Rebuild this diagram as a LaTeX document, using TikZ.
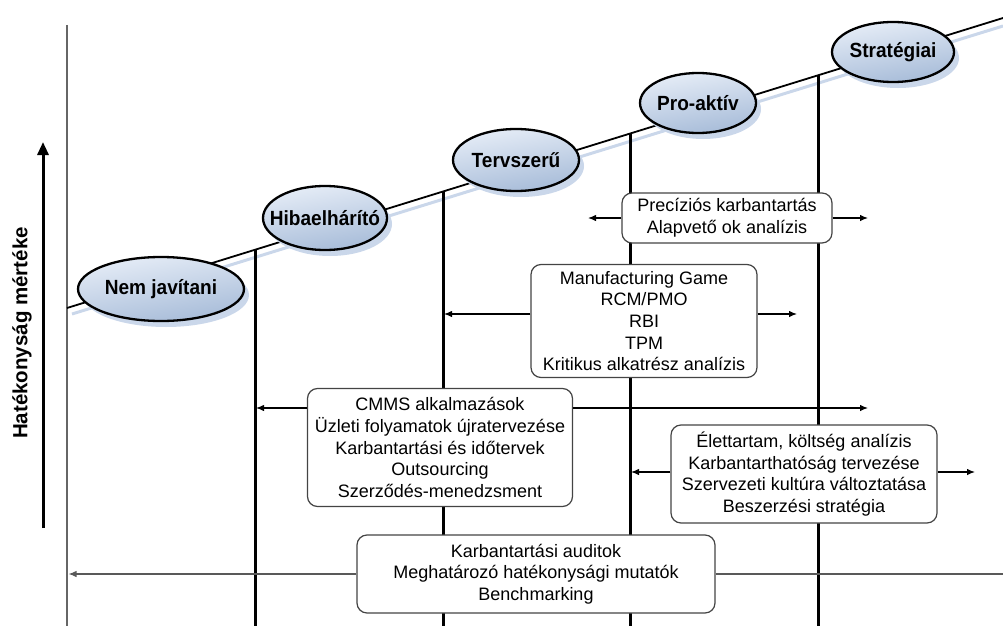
\documentclass[tikz,border=0pt]{standalone}
\usepackage{fontspec}
\setmainfont{Liberation Sans}
\newfontfamily\stagefont[FakeStretch=0.93]{Liberation Sans}
\usetikzlibrary{arrows.meta,shapes.geometric,calc}

\definecolor{ellTop}{HTML}{E6EDF7}
\definecolor{ellBot}{HTML}{A6BBD8}
\definecolor{ellShadow}{HTML}{CAD7EA}
\definecolor{boxLine}{HTML}{444444}

\tikzset{
  stage/.style={ellipse, draw=black, line width=2.3pt, inner sep=0pt,
    top color=ellTop, bottom color=ellBot, shading angle=10},
  stagetext/.style={inner sep=0pt, font=\stagefont\fontsize{20.5}{24}\selectfont\bfseries},
  stageshadow/.style={ellipse, fill=ellShadow, draw=none, inner sep=0pt},
  infobox/.style={rectangle, rounded corners=10pt, draw=boxLine, line width=1.2pt,
    fill=white, align=center, inner sep=0pt,
    font=\fontsize{18}{21.7}\selectfont},
  arr/.style={line width=1.2pt, -{Latex[length=8pt,width=6.5pt]}},
  grayarr/.style={line width=1.2pt, draw=black!65, -{Latex[length=8pt,width=6.5pt]}},
  stagebar/.style={line width=3pt, draw=black},
}

\begin{document}
\begin{tikzpicture}[x=1pt,y=-1pt]
\useasboundingbox (0,0) rectangle (1003,626);

% axis and its label
\coordinate (axTop) at (67,25);
\coordinate (axBot) at (67,626);
\draw[line width=1.8pt, black!60] (axTop) -- (axBot);
\coordinate (upS) at (43,528);
\coordinate (upE) at (43,142);
\draw[line width=3pt, -{Triangle[length=13pt,width=11pt]}] (upS) -- (upE);
\node[rotate=90, font=\fontsize{20.5}{24}\selectfont\bfseries] (ylab) at (22,333) {Hatékonyság mértéke};

% rising maturity line with its soft shadow
\coordinate (d0) at (67,308);
\coordinate (d1) at (1003,18);
\coordinate (s0) at (72,314);
\coordinate (s1) at (1003,26);
\draw[line width=3pt, ellShadow] (s0) -- (s1);
\draw[line width=1.8pt] (d0) -- (d1);

% vertical separators between stages
\foreach \nm/\xx/\yy in {v1/255/249.8, v2/443/191.5, v3/630/133.6, v4/818/75.3}{
  \coordinate (\nm t) at (\xx,\yy);
  \coordinate (\nm b) at (\xx,626);
  \draw[stagebar] (\nm t) -- (\nm b);
}

% stage ellipses
\foreach \nm/\xx/\yy/\ww/\hh/\txt in {
  e1/161/289/166/64/{Nem javítani},
  e2/325/218/124/64/{Hibaelhárító},
  e3/516/160/126/62/{Tervszerű},
  e4/698/103/116/60/{Pro-aktív},
  e5/893/52/122/60/{Stratégiai}}{
  \node[stageshadow, minimum width=\ww pt, minimum height=\hh pt] (\nm s) at (\xx+5,\yy+6) {};
  \node[stage, minimum width=\ww pt, minimum height=\hh pt] (\nm) at (\xx,\yy) {};
  \node[stagetext] (\nm t) at (\nm) {\txt};
}

% arrow end points
\coordinate (a1L) at (588,218);
\coordinate (a1R) at (868,218);
\coordinate (a2L) at (444,314);
\coordinate (a2R) at (797,314);
\coordinate (a3L) at (256,408);
\coordinate (a3R) at (868,408);
\coordinate (a4L) at (631,472);
\coordinate (a4R) at (975,472);
\coordinate (a5L) at (68.5,574);
\coordinate (a5R) at (1003,574);

% method boxes
\node[infobox, minimum width=210pt, minimum height=50pt] (b1) at (727,218)
  {Precíziós karbantartás\\Alapvető ok analízis};
\node[infobox, minimum width=226pt, minimum height=113pt] (b2) at (644,321)
  {Manufacturing Game\\RCM/PMO\\RBI\\TPM\\Kritikus alkatrész analízis};
\node[infobox, minimum width=265pt, minimum height=118pt] (b3) at (440,447.5)
  {CMMS alkalmazások\\Üzleti folyamatok újratervezése\\Karbantartási és időtervek\\Outsourcing\\Szerződés-menedzsment};
\node[infobox, minimum width=266pt, minimum height=98pt] (b4) at (804,474)
  {Élettartam, költség analízis\\Karbantarthatóság tervezése\\Szervezeti kultúra változtatása\\Beszerzési stratégia};
\node[infobox, minimum width=358pt, minimum height=78pt] (b5) at (536,574)
  {Karbantartási auditok\\Meghatározó hatékonysági mutatók\\Benchmarking};

% reach of each group of methods
\draw[arr] (b1.west) -- (a1L);
\draw[arr] (b1.east) -- (a1R);
\draw[arr] (b2.west |- a2L) -- (a2L);
\draw[arr] (b2.east |- a2R) -- (a2R);
\draw[arr] (b3.west |- a3L) -- (a3L);
\draw[arr] (b3.east |- a3R) -- (a3R);
\draw[arr] (b4.west |- a4L) -- (a4L);
\draw[arr] (b4.east |- a4R) -- (a4R);
\draw[grayarr] (b5.west) -- (a5L);
\draw[line width=1.2pt, black!65] (b5.east) -- (a5R);
\end{tikzpicture}
\end{document}
